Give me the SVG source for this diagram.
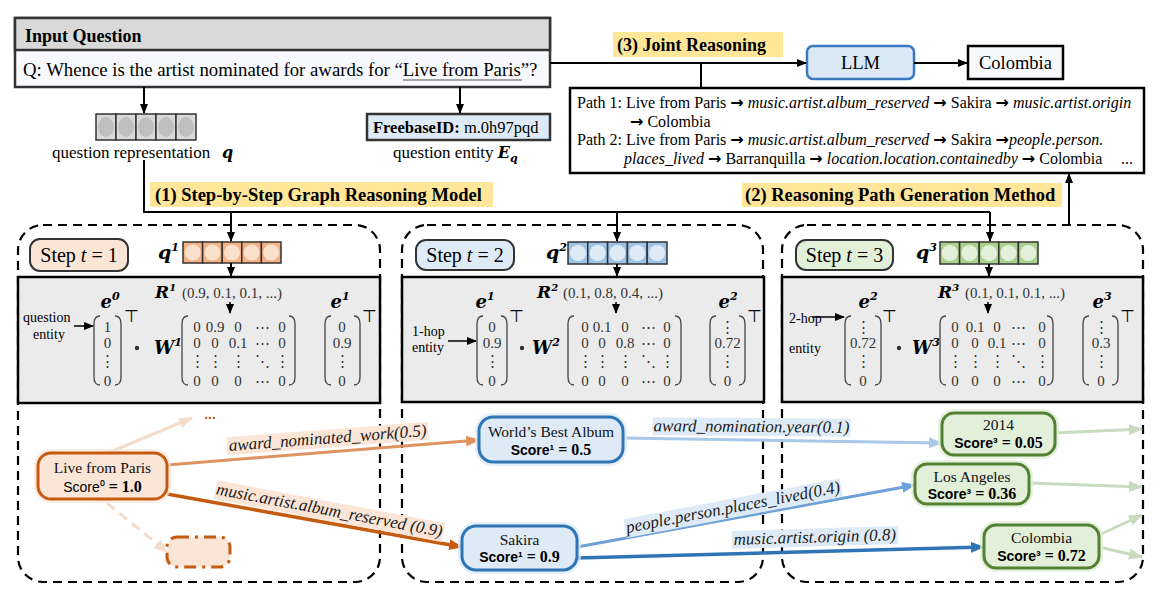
<svg xmlns="http://www.w3.org/2000/svg" width="1167" height="594" viewBox="0 0 1167 594">
<defs>
<style>
.serif{font-family:"Liberation Serif","Times New Roman","DejaVu Serif",serif}
.sans{font-family:"Liberation Sans",Arial,sans-serif}
.bold{font-weight:bold}
.it{font-style:italic}
.mbi{font-family:"DejaVu Serif","Liberation Serif",serif;font-weight:bold;font-style:italic}
.mv{font-family:"Liberation Serif","DejaVu Serif",serif;font-size:15px;fill:#333}
.small{font-family:"Liberation Serif","Times New Roman",serif;font-size:14px}
.hl{fill:#ffe699}
.blk{fill:none;stroke:#000;stroke-width:2}
.ar{font-family:"DejaVu Sans",sans-serif;font-weight:bold;font-style:normal}
.pt{font-family:"Liberation Serif","Times New Roman",serif;font-size:16px}
.dash{fill:none;stroke:#000;stroke-width:2.2;stroke-dasharray:9 6}
.gray{fill:#ebebeb;stroke:#000;stroke-width:2.5}
.par{fill:none;stroke:#444;stroke-width:1.3}
.lab{font-family:"Liberation Serif","Times New Roman",serif;font-style:italic;font-size:17px;fill:#1a1a1a}
.nt{font-family:"Liberation Serif","Times New Roman",serif;font-size:15.5px;fill:#111}
.sc{font-family:"Liberation Sans",Arial,sans-serif;font-size:14px;font-weight:bold}
.eq{font-family:"Liberation Serif","Times New Roman",serif;font-size:16px;font-weight:bold}
.cellO{fill:#f4b183;stroke:#333;stroke-width:1.5}
.cellB{fill:#9dc3e6;stroke:#333;stroke-width:1.5}
.cellG{fill:#a9d18e;stroke:#333;stroke-width:1.5}
.cellK{fill:#d9d9d9;stroke:#333;stroke-width:1.5}
</style>
<marker id="ab" markerUnits="userSpaceOnUse" markerWidth="10" markerHeight="8" refX="9" refY="4" orient="auto"><path d="M0,0 L10,4 L0,8 z" fill="#000"/></marker>
<marker id="aO1" markerUnits="userSpaceOnUse" markerWidth="14" markerHeight="11" refX="13" refY="5.5" orient="auto"><path d="M0,0 L14,5.5 L0,11 z" fill="#df9460"/></marker>
<marker id="aO2" markerUnits="userSpaceOnUse" markerWidth="14" markerHeight="11" refX="13" refY="5.5" orient="auto"><path d="M0,0 L14,5.5 L0,11 z" fill="#c55a11"/></marker>
<marker id="aOf" markerUnits="userSpaceOnUse" markerWidth="14" markerHeight="11" refX="13" refY="5.5" orient="auto"><path d="M0,0 L14,5.5 L0,11 z" fill="#f4dccb"/></marker>
<marker id="aB1" markerUnits="userSpaceOnUse" markerWidth="14" markerHeight="11" refX="13" refY="5.5" orient="auto"><path d="M0,0 L14,5.5 L0,11 z" fill="#a9c8e8"/></marker>
<marker id="aB2" markerUnits="userSpaceOnUse" markerWidth="14" markerHeight="11" refX="13" refY="5.5" orient="auto"><path d="M0,0 L14,5.5 L0,11 z" fill="#6fa0d8"/></marker>
<marker id="aB3" markerUnits="userSpaceOnUse" markerWidth="14" markerHeight="11" refX="13" refY="5.5" orient="auto"><path d="M0,0 L14,5.5 L0,11 z" fill="#2e75b6"/></marker>
<marker id="aG" markerUnits="userSpaceOnUse" markerWidth="14" markerHeight="11" refX="13" refY="5.5" orient="auto"><path d="M0,0 L14,5.5 L0,11 z" fill="#c9dbbf"/></marker>
</defs>
<rect width="1167" height="594" fill="#fff"/>

<!-- Input question -->
<g id="input-question">
<rect x="15" y="18" width="535" height="69" fill="#f8f9fc" stroke="#333" stroke-width="2.5"/>
<rect x="15" y="18" width="535" height="32" fill="#d9d9d9" stroke="#333" stroke-width="2.5"/>
<text x="25" y="42" class="serif bold" font-size="18">Input Question</text>
<text x="23" y="76" class="serif" font-size="18.8">Q: Whence is the artist nominated for awards for “Live from Paris”?</text>
<line x1="403" y1="80" x2="522" y2="80" stroke="#888" stroke-width="1.3"/>
</g>

<g id="question-representation">
<rect x="96" y="114" width="20" height="26" class="cellK"/><rect x="116" y="114" width="20" height="26" class="cellK"/><rect x="136" y="114" width="20" height="26" class="cellK"/><rect x="156" y="114" width="20" height="26" class="cellK"/><rect x="176" y="114" width="20" height="26" class="cellK"/>
<g fill="#bfbfbf"><ellipse cx="106" cy="127" rx="8" ry="10"/><ellipse cx="126" cy="127" rx="8" ry="10"/><ellipse cx="146" cy="127" rx="8" ry="10"/><ellipse cx="166" cy="127" rx="8" ry="10"/><ellipse cx="186" cy="127" rx="8" ry="10"/></g>
<text x="52" y="158" class="serif" font-size="17">question representation</text>
<text x="222" y="158" class="mbi" font-size="16">q</text>
</g>

<g id="question-entity">
<rect x="367" y="114" width="183" height="26" fill="#deebf7" stroke="#333" stroke-width="2.5"/>
<text x="373" y="133" class="serif" font-size="16.5"><tspan class="bold">FreebaseID:</tspan> m.0h97pqd</text>
<text x="393" y="158" class="serif" font-size="17">question entity <tspan class="mbi" font-size="16">E</tspan><tspan class="mbi" font-size="11" dy="4">q</tspan></text>
</g>

<g id="label-1"><rect x="150" y="182" width="343" height="25" class="hl"/><text x="155" y="201" class="serif bold" font-size="18.5">(1) Step-by-Step Graph Reasoning Model</text></g>
<g id="label-2"><rect x="742" y="183" width="320" height="24" class="hl"/><text x="745" y="201" class="serif bold" font-size="18.5">(2) Reasoning Path Generation Method</text></g>
<g id="label-3"><rect x="613" y="32" width="170" height="25" class="hl"/><text x="617" y="51" class="serif bold" font-size="18">(3) Joint Reasoning</text></g>

<g id="llm"><rect x="807" y="46" width="107" height="33" rx="6" fill="#dbe8f5" stroke="#3a78c2" stroke-width="2.5"/><text x="860.5" y="69" text-anchor="middle" class="serif" font-size="18.5">LLM</text></g>
<g id="answer"><rect x="968" y="46" width="95" height="33" fill="#f8f9fc" stroke="#000" stroke-width="2.5"/><text x="1015.5" y="69" text-anchor="middle" class="serif" font-size="18.5">Colombia</text></g>

<g id="paths-box">
<rect x="570" y="88" width="574" height="85" fill="#fff" stroke="#000" stroke-width="2.5"/>
<text x="577" y="108" class="pt">Path 1: Live from Paris <tspan class="ar">→</tspan> <tspan class="it">music.artist.album_reserved</tspan> <tspan class="ar">→</tspan> Sakira <tspan class="ar">→</tspan> <tspan class="it">music.artist.origin</tspan></text>
<text x="630" y="127" class="pt"><tspan class="ar">→</tspan> Colombia</text>
<text x="577" y="145" class="pt">Path 2: Live from Paris <tspan class="ar">→</tspan> <tspan class="it">music.artist.album_reserved</tspan> <tspan class="ar">→</tspan> Sakira <tspan class="ar">→</tspan><tspan class="it">people.person.</tspan></text>
<text x="624" y="164" class="pt"><tspan class="it">places_lived</tspan> <tspan class="ar">→</tspan> Barranquilla <tspan class="ar">→</tspan>  <tspan class="it">location.location.containedby</tspan> <tspan class="ar">→</tspan> Colombia</text>
<text x="1121" y="164" class="pt">...</text>
</g>

<!-- Step 1 -->
<g id="step-1">
<rect x="18" y="225" width="362" height="357" rx="25" class="dash"/>
<rect x="30" y="239" width="98" height="32" rx="10" fill="#fbe5d6" stroke="#333" stroke-width="2"/>
<text x="79" y="262" text-anchor="middle" class="serif" font-size="20">Step <tspan class="it">t</tspan> = 1</text>
<text x="158" y="259" class="mbi" font-size="19">q<tspan font-size="11" dy="-8">1</tspan></text>
<rect x="183" y="242" width="19.6" height="21" class="cellO"/><rect x="202.6" y="242" width="19.6" height="21" class="cellO"/><rect x="222.2" y="242" width="19.6" height="21" class="cellO"/><rect x="241.8" y="242" width="19.6" height="21" class="cellO"/><rect x="261.4" y="242" width="19.6" height="21" class="cellO"/>
<g fill="#fbe0cc"><circle cx="192.8" cy="252.5" r="8"/><circle cx="212.4" cy="252.5" r="8"/><circle cx="232" cy="252.5" r="8"/><circle cx="251.6" cy="252.5" r="8"/><circle cx="271.2" cy="252.5" r="8"/></g>
<rect x="18" y="277" width="362" height="126" class="gray"/>
<text x="155" y="298" class="mbi" font-size="17">R<tspan font-size="10" dy="-7">1</tspan></text>
<text x="182" y="298" class="mv">(0.9, 0.1, 0.1, ...)</text>
<text x="110" y="308" text-anchor="middle" class="mbi" font-size="18">e<tspan font-size="11" dy="-8">0</tspan></text>
<text x="23" y="322" class="small">question</text>
<text x="33" y="339" class="small">entity</text>
<path d="M100,316 Q94,316 94,324 L94,377 Q94,385 100,385" class="par"/>
<path d="M115,316 Q121,316 121,324 L121,377 Q121,385 115,385" class="par"/>
<g text-anchor="middle" class="mv"><text x="107.5" y="332">1</text><text x="107.5" y="348">0</text><text x="107.5" y="366">⋮</text><text x="107.5" y="386">0</text></g>
<text x="124" y="322" class="sans" font-size="17">⊤</text>
<circle cx="137" cy="348" r="2.2" fill="#333"/>
<text x="154" y="354" class="mbi" font-size="18">W<tspan font-size="11" dy="-8">1</tspan></text>
<path d="M188,316 Q182,316 182,324 L182,377 Q182,385 188,385" class="par"/>
<path d="M289,316 Q295,316 295,324 L295,377 Q295,385 289,385" class="par"/>
<g text-anchor="middle" class="mv">
<text x="197" y="332">0</text><text x="215" y="332">0.9</text><text x="238" y="332">0</text><text x="262" y="332">⋯</text><text x="282" y="332">0</text>
<text x="197" y="348">0</text><text x="215" y="348">0</text><text x="238" y="348">0.1</text><text x="262" y="348">⋯</text><text x="282" y="348">0</text>
<text x="197" y="366">⋮</text><text x="215" y="366">⋮</text><text x="238" y="366">⋮</text><text x="262" y="366">⋱</text><text x="282" y="366">⋮</text>
<text x="197" y="386">0</text><text x="215" y="386">0</text><text x="238" y="386">0</text><text x="262" y="386">⋯</text><text x="282" y="386">0</text>
</g>
<text x="340" y="308" text-anchor="middle" class="mbi" font-size="18">e<tspan font-size="11" dy="-8">1</tspan></text>
<path d="M331,316 Q325,316 325,324 L325,377 Q325,385 331,385" class="par"/>
<path d="M354,316 Q360,316 360,324 L360,377 Q360,385 354,385" class="par"/>
<g text-anchor="middle" class="mv"><text x="342" y="332">0</text><text x="342" y="348">0.9</text><text x="342" y="366">⋮</text><text x="342" y="386">0</text></g>
<text x="362" y="322" class="sans" font-size="17">⊤</text>
</g>

<!-- Step 2 -->
<g id="step-2">
<rect x="402" y="225" width="361" height="357" rx="25" class="dash"/>
<rect x="416" y="240" width="98" height="30" rx="10" fill="#deebf7" stroke="#333" stroke-width="2"/>
<text x="465" y="262" text-anchor="middle" class="serif" font-size="20">Step <tspan class="it">t</tspan> = 2</text>
<text x="546" y="259" class="mbi" font-size="19">q<tspan font-size="11" dy="-8">2</tspan></text>
<rect x="568" y="242" width="19.8" height="22" class="cellB"/><rect x="587.8" y="242" width="19.8" height="22" class="cellB"/><rect x="607.6" y="242" width="19.8" height="22" class="cellB"/><rect x="627.4" y="242" width="19.8" height="22" class="cellB"/><rect x="647.2" y="242" width="19.8" height="22" class="cellB"/>
<g fill="#deebf7"><circle cx="577.9" cy="253" r="8"/><circle cx="597.7" cy="253" r="8"/><circle cx="617.5" cy="253" r="8"/><circle cx="637.3" cy="253" r="8"/><circle cx="657.1" cy="253" r="8"/></g>
<rect x="402" y="277" width="362" height="125" class="gray"/>
<text x="537" y="298" class="mbi" font-size="17">R<tspan font-size="10" dy="-7">2</tspan></text>
<text x="563" y="298" class="mv">(0.1, 0.8, 0.4, ...)</text>
<text x="485" y="308" text-anchor="middle" class="mbi" font-size="18">e<tspan font-size="11" dy="-8">1</tspan></text>
<text x="412" y="336" class="small">1-hop</text>
<text x="412" y="352" class="small">entity</text>
<path d="M483,316 Q477,316 477,324 L477,377 Q477,385 483,385" class="par"/>
<path d="M501,316 Q507,316 507,324 L507,377 Q507,385 501,385" class="par"/>
<g text-anchor="middle" class="mv"><text x="492" y="332">0</text><text x="492" y="348">0.9</text><text x="492" y="366">⋮</text><text x="492" y="386">0</text></g>
<text x="509" y="322" class="sans" font-size="17">⊤</text>
<circle cx="522" cy="348" r="2.2" fill="#333"/>
<text x="532" y="354" class="mbi" font-size="18">W<tspan font-size="11" dy="-8">2</tspan></text>
<path d="M574,316 Q568,316 568,324 L568,377 Q568,385 574,385" class="par"/>
<path d="M675,316 Q681,316 681,324 L681,377 Q681,385 675,385" class="par"/>
<g text-anchor="middle" class="mv">
<text x="585" y="332">0</text><text x="602" y="332">0.1</text><text x="625" y="332">0</text><text x="648" y="332">⋯</text><text x="667" y="332">0</text>
<text x="585" y="348">0</text><text x="602" y="348">0</text><text x="625" y="348">0.8</text><text x="648" y="348">⋯</text><text x="667" y="348">0</text>
<text x="585" y="366">⋮</text><text x="602" y="366">⋮</text><text x="625" y="366">⋮</text><text x="648" y="366">⋱</text><text x="667" y="366">⋮</text>
<text x="585" y="386">0</text><text x="602" y="386">0</text><text x="625" y="386">0</text><text x="648" y="386">⋯</text><text x="667" y="386">0</text>
</g>
<text x="728" y="308" text-anchor="middle" class="mbi" font-size="18">e<tspan font-size="11" dy="-8">2</tspan></text>
<path d="M716,316 Q710,316 710,324 L710,377 Q710,385 716,385" class="par"/>
<path d="M739,316 Q745,316 745,324 L745,377 Q745,385 739,385" class="par"/>
<g text-anchor="middle" class="mv"><text x="727.5" y="332">⋮</text><text x="727.5" y="348">0.72</text><text x="727.5" y="366">⋮</text><text x="727.5" y="386">0</text></g>
<text x="747" y="322" class="sans" font-size="17">⊤</text>
</g>

<!-- Step 3 -->
<g id="step-3">
<rect x="782" y="225" width="361" height="357" rx="25" class="dash"/>
<rect x="796" y="240" width="97" height="30" rx="10" fill="#e2f0d9" stroke="#333" stroke-width="2"/>
<text x="844.5" y="262" text-anchor="middle" class="serif" font-size="20">Step <tspan class="it">t</tspan> = 3</text>
<text x="916" y="259" class="mbi" font-size="19">q<tspan font-size="11" dy="-8">3</tspan></text>
<rect x="940" y="242" width="19.6" height="22" class="cellG"/><rect x="959.6" y="242" width="19.6" height="22" class="cellG"/><rect x="979.2" y="242" width="19.6" height="22" class="cellG"/><rect x="998.8" y="242" width="19.6" height="22" class="cellG"/><rect x="1018.4" y="242" width="19.6" height="22" class="cellG"/>
<g fill="#e2f0d9"><circle cx="949.8" cy="253" r="8"/><circle cx="969.4" cy="253" r="8"/><circle cx="989" cy="253" r="8"/><circle cx="1008.6" cy="253" r="8"/><circle cx="1028.2" cy="253" r="8"/></g>
<rect x="782" y="277" width="361" height="125" class="gray"/>
<text x="938" y="298" class="mbi" font-size="17">R<tspan font-size="10" dy="-7">3</tspan></text>
<text x="965" y="298" class="mv">(0.1, 0.1, 0.1, ...)</text>
<text x="868" y="308" text-anchor="middle" class="mbi" font-size="18">e<tspan font-size="11" dy="-8">2</tspan></text>
<text x="789" y="323" class="small">2-hop</text>
<text x="789" y="353" class="small">entity</text>
<path d="M851,316 Q845,316 845,324 L845,377 Q845,385 851,385" class="par"/>
<path d="M875,316 Q881,316 881,324 L881,377 Q881,385 875,385" class="par"/>
<g text-anchor="middle" class="mv"><text x="863" y="332">⋮</text><text x="863" y="348">0.72</text><text x="863" y="366">⋮</text><text x="863" y="386">0</text></g>
<text x="882" y="322" class="sans" font-size="17">⊤</text>
<circle cx="899" cy="348" r="2.2" fill="#333"/>
<text x="912" y="354" class="mbi" font-size="18">W<tspan font-size="11" dy="-8">3</tspan></text>
<path d="M946,316 Q940,316 940,324 L940,377 Q940,385 946,385" class="par"/>
<path d="M1047,316 Q1053,316 1053,324 L1053,377 Q1053,385 1047,385" class="par"/>
<g text-anchor="middle" class="mv">
<text x="955" y="332">0</text><text x="975" y="332">0.1</text><text x="997" y="332">0</text><text x="1018" y="332">⋯</text><text x="1042" y="332">0</text>
<text x="955" y="348">0</text><text x="975" y="348">0</text><text x="997" y="348">0.1</text><text x="1018" y="348">⋯</text><text x="1042" y="348">0</text>
<text x="955" y="366">⋮</text><text x="975" y="366">⋮</text><text x="997" y="366">⋮</text><text x="1018" y="366">⋱</text><text x="1042" y="366">⋮</text>
<text x="955" y="386">0</text><text x="975" y="386">0</text><text x="997" y="386">0</text><text x="1018" y="386">⋯</text><text x="1042" y="386">0</text>
</g>
<text x="1102" y="308" text-anchor="middle" class="mbi" font-size="18">e<tspan font-size="11" dy="-8">3</tspan></text>
<path d="M1089,316 Q1083,316 1083,324 L1083,377 Q1083,385 1089,385" class="par"/>
<path d="M1112,316 Q1118,316 1118,324 L1118,377 Q1118,385 1112,385" class="par"/>
<g text-anchor="middle" class="mv"><text x="1101" y="332">⋮</text><text x="1101" y="348">0.3</text><text x="1101" y="366">⋮</text><text x="1101" y="386">0</text></g>
<text x="1120" y="322" class="sans" font-size="17">⊤</text>
</g>

<!-- Connectors -->
<g id="connectors" fill="none">
<g stroke="#000" stroke-width="2">
<path d="M144,87 V113" marker-end="url(#ab)"/>
<path d="M460,87 V113" marker-end="url(#ab)"/>
<path d="M550,63 H806" marker-end="url(#ab)"/>
<path d="M914,63 H967" marker-end="url(#ab)"/>
<path d="M701,88 V63"/>
<path d="M144,160 V212 H990"/>
<path d="M231,212 V241" marker-end="url(#ab)"/>
<path d="M617,212 V241" marker-end="url(#ab)"/>
<path d="M990,212 V241" marker-end="url(#ab)"/>
<path d="M231,263 V276" marker-end="url(#ab)"/>
<path d="M617,264 V276" marker-end="url(#ab)"/>
<path d="M989,264 V276" marker-end="url(#ab)"/>
<path d="M1069,225 V174" marker-end="url(#ab)"/>
</g>
<g stroke="#000" stroke-width="1.5">
<path d="M230,302 V313" marker-end="url(#ab)"/>
<path d="M616,302 V313" marker-end="url(#ab)"/>
<path d="M988,302 V313" marker-end="url(#ab)"/>
<path d="M74,326 H93" marker-end="url(#ab)"/>
<path d="M448,341 H476" marker-end="url(#ab)"/>
<path d="M812,317 H844" marker-end="url(#ab)"/>
</g>
<g stroke-width="3">
<path d="M110,452 L192,418" stroke="#f4dccb" marker-end="url(#aOf)"/>
<path d="M107,503 L167,552" stroke="#f4dccb" stroke-dasharray="10 6" marker-end="url(#aOf)"/>
<path d="M167,465 L479,440" stroke="#df9460" marker-end="url(#aO1)"/>
<path d="M167,494 L462,547" stroke="#c55a11" stroke-width="3.5" marker-end="url(#aO2)"/>
<path d="M623,438 L942,443" stroke="#a9c8e8" marker-end="url(#aB1)"/>
<path d="M577,547 L915,485" stroke="#6fa0d8" marker-end="url(#aB2)"/>
<path d="M577,558 L984,547" stroke="#2e75b6" stroke-width="3.5" marker-end="url(#aB3)"/>
<path d="M1055,433 L1142,429" stroke="#c9dbbf" marker-end="url(#aG)"/>
<path d="M1029,483 L1142,487" stroke="#c9dbbf" marker-end="url(#aG)"/>
<path d="M1099,535 L1142,515" stroke="#c9dbbf" marker-end="url(#aG)"/>
<path d="M1099,547 L1142,557" stroke="#c9dbbf" marker-end="url(#aG)"/>
</g>
</g>

<g id="edge-labels">
<g transform="translate(328,443.5) rotate(-4.4)"><rect x="-101" y="-14" width="202" height="18" fill="#fbe5d6"/><text x="0" y="0" text-anchor="middle" class="lab">award_nominated_work(0.5)</text></g>
<g transform="translate(328.5,515.5) rotate(10.7)"><rect x="-116" y="-14" width="232" height="19" fill="#fbe5d6"/><text x="0" y="0" text-anchor="middle" class="lab">music.artist.album_reserved (0.9)</text></g>
<g transform="translate(751.5,432) rotate(0.5)"><rect x="-99" y="-14" width="198" height="18" fill="#deebf7"/><text x="0" y="0" text-anchor="middle" class="lab">award_nomination.year(0.1)</text></g>
<g transform="translate(734,512.5) rotate(-10.8)"><rect x="-110" y="-14" width="220" height="19" fill="#deebf7"/><text x="0" y="0" text-anchor="middle" class="lab">people.person.places_lived(0.4)</text></g>
<g transform="translate(815,542.5) rotate(-1.7)"><rect x="-83" y="-14" width="166" height="18" fill="#deebf7"/><text x="0" y="0" text-anchor="middle" class="lab">music.artist.origin (0.8)</text></g>
</g>

<!-- Graph nodes -->
<g id="node-more-top"><text x="210" y="419" text-anchor="middle" class="sans" font-size="14" fill="#c55a11" font-weight="bold">...</text></g>
<g id="node-live-from-paris">
<rect x="38" y="453" width="129" height="46" rx="13" fill="none" stroke="#fbe5d6" stroke-width="8" opacity="0.7"/>
<rect x="38" y="453" width="129" height="46" rx="13" fill="#fbe5d6" stroke="#c55a11" stroke-width="3"/>
<text x="102.5" y="473" text-anchor="middle" class="nt">Live from Paris</text>
<text x="102.5" y="492" text-anchor="middle"><tspan class="sans" font-size="14">Score⁰</tspan><tspan class="eq"> = 1.0</tspan></text>
</g>
<g id="node-dashed"><rect x="167" y="537" width="63" height="30" rx="10" fill="#fbe5d6" stroke="#c55a11" stroke-width="3" stroke-dasharray="12 6 3 6"/></g>
<g id="node-worlds-best-album">
<rect x="479" y="417" width="144" height="45" rx="14" fill="none" stroke="#deebf7" stroke-width="8" opacity="0.8"/>
<rect x="479" y="417" width="144" height="45" rx="14" fill="#deebf7" stroke="#2e75b6" stroke-width="3"/>
<text x="551" y="437" text-anchor="middle" class="nt">World’s Best Album</text>
<text x="551" y="455" text-anchor="middle"><tspan class="sc">Score¹</tspan><tspan class="eq"> = 0.5</tspan></text>
</g>
<g id="node-sakira">
<rect x="462" y="526" width="115" height="44" rx="14" fill="none" stroke="#deebf7" stroke-width="8" opacity="0.8"/>
<rect x="462" y="526" width="115" height="44" rx="14" fill="#deebf7" stroke="#2e75b6" stroke-width="3"/>
<text x="519.5" y="545" text-anchor="middle" class="nt">Sakira</text>
<text x="519.5" y="562" text-anchor="middle"><tspan class="sc">Score¹</tspan><tspan class="eq"> = 0.9</tspan></text>
</g>
<g id="node-2014">
<rect x="942" y="413" width="113" height="42" rx="12" fill="none" stroke="#e2efd9" stroke-width="8" opacity="0.8"/>
<rect x="942" y="413" width="113" height="42" rx="12" fill="#e2efd9" stroke="#548235" stroke-width="3"/>
<text x="998.5" y="430" text-anchor="middle" class="nt">2014</text>
<text x="998.5" y="448" text-anchor="middle"><tspan class="sc">Score³</tspan><tspan class="eq"> = 0.05</tspan></text>
</g>
<g id="node-los-angeles">
<rect x="915" y="464" width="114" height="40" rx="12" fill="none" stroke="#e2efd9" stroke-width="8" opacity="0.8"/>
<rect x="915" y="464" width="114" height="40" rx="12" fill="#e2efd9" stroke="#548235" stroke-width="3"/>
<text x="972" y="482" text-anchor="middle" class="nt">Los Angeles</text>
<text x="972" y="499" text-anchor="middle"><tspan class="sc">Score³</tspan><tspan class="eq"> = 0.36</tspan></text>
</g>
<g id="node-colombia">
<rect x="984" y="525" width="115" height="43" rx="12" fill="none" stroke="#e2efd9" stroke-width="8" opacity="0.8"/>
<rect x="984" y="525" width="115" height="43" rx="12" fill="#e2efd9" stroke="#548235" stroke-width="3"/>
<text x="1041.5" y="543" text-anchor="middle" class="nt">Colombia</text>
<text x="1041.5" y="561" text-anchor="middle"><tspan class="sc">Score³</tspan><tspan class="eq"> = 0.72</tspan></text>
</g>
</svg>
